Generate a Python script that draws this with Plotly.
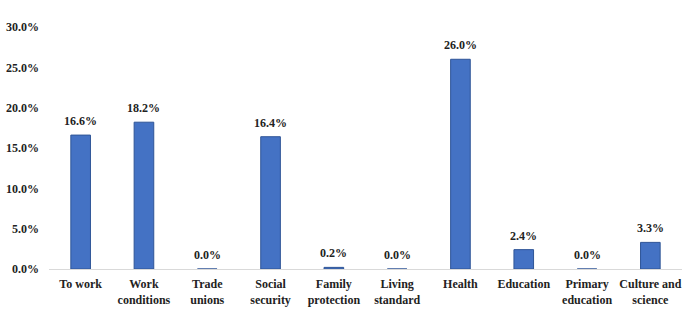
import plotly.graph_objects as go

categories = ["To work", "Work<br>conditions", "Trade<br>unions", "Social<br>security", "Family<br>protection",
              "Living<br>standard", "Health", "Education", "Primary<br>education", "Culture and<br>science"]
values = [16.6, 18.2, 0.0, 16.4, 0.2, 0.0, 26.0, 2.4, 0.0, 3.3]
tick_vals = [0, 5, 10, 15, 20, 25, 30]
tick_text = ["0.0%", "5.0%", "10.0%", "15.0%", "20.0%", "25.0%", "30.0%"]

font = "Liberation Serif"

fig = go.Figure(go.Bar(
    x=categories, y=values,
    marker=dict(color="#4472C4", line=dict(color="#2F5597", width=1)),
    cliponaxis=False,
    width=0.31,
))

for c, v in zip(categories, values):
    fig.add_annotation(
        x=c, y=v, text=f"<b>{v:.1f}%</b>", showarrow=False,
        yanchor="bottom", yshift=5,
        font=dict(family=font, size=12, color="#222"),
    )

fig.update_layout(
    width=689, height=309,
    margin=dict(l=49, r=7, t=27, b=40),
    paper_bgcolor="white", plot_bgcolor="white",
    font=dict(family=font, size=12, color="#222"),
    showlegend=False,
)
fig.update_xaxes(
    showgrid=False, showline=True, linecolor="#D9D9D9", linewidth=1,
    ticks="", tickfont=dict(family=font, size=12, color="#222"),
    ticktext=[f"<b>{c}</b>" for c in categories], tickvals=categories,
    tickangle=0, automargin=False, ticklabelstandoff=4,
)
fig.update_yaxes(
    range=[0, 30], tickvals=tick_vals, ticktext=[f"<b>{t}</b>" for t in tick_text],
    showgrid=False, zeroline=False, showline=False,
    tickfont=dict(family=font, size=12, color="#222"),
    ticklabelstandoff=9, automargin=False,
)

fig.write_html("out.html", config={"displayModeBar": False},
               post_script="document.body.style.margin='0';")
